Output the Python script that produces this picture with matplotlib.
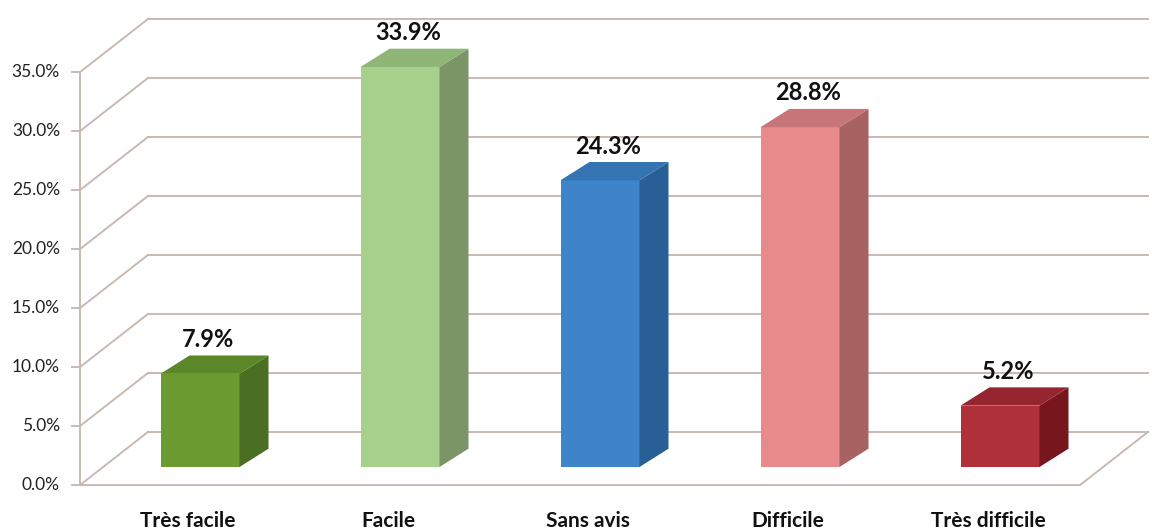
import numpy as np
import matplotlib.pyplot as plt
from matplotlib.patches import Polygon

plt.rcParams['font.family'] = ['Lato', 'DejaVu Sans']

categories = ['Très facile', 'Facile', 'Sans avis', 'Difficile', 'Très difficile']
values = [7.9, 33.9, 24.3, 28.8, 5.2]
y_ticks = [0, 5, 10, 15, 20, 25, 30, 35]

front_colors = ['#6b9b30', '#a8d08d', '#3d85c8', '#e8898b', '#b0303a']
side_colors = ['#4a6e22', '#7b9566', '#285f96', '#a86262', '#78161e']
top_colors = ['#5a8728', '#8fb577', '#3474b2', '#c77578', '#952530']

GRID = '#c8b9b2'
BAR_W = 0.395
BAR_DX, BAR_DY = 0.145, 1.55      # depth of a bar (categories, %)
FRONT_DX, FRONT_DY = -0.115, -1.53  # front plane of the box
BACK_DX, BACK_DY = 0.225, 2.97      # back wall of the box
BOX_L, BOX_R = -0.485, 4.515

fig = plt.figure(figsize=(11.52, 5.32), dpi=100)
ax = fig.add_axes([0, 0, 1, 1])
ax.set_xlim(-1.0, 4.76)
ax.set_ylim(-5.51, 39.58)
ax.axis('off')

fl, fr = BOX_L + FRONT_DX, BOX_R + FRONT_DX
bl, br = BOX_L + BACK_DX, BOX_R + BACK_DX

# walls + gridlines
for t in y_ticks:
    ax.plot([bl, br], [t + BACK_DY] * 2, color=GRID, lw=1.4, zorder=1)
    ax.plot([fl, bl], [t + FRONT_DY, t + BACK_DY], color=GRID, lw=1.4, zorder=1)
    ax.plot([fl - 0.04, fl], [t + FRONT_DY] * 2, color=GRID, lw=1.4, zorder=1)
    ax.text(fl - 0.1, t + FRONT_DY, f'{t:.1f}%', ha='right', va='center',
            fontsize=12.5, color='#222222')
ax.plot([fl, fl], [FRONT_DY, y_ticks[-1] + FRONT_DY], color=GRID, lw=1.4, zorder=1)
ax.plot([fl, fr, br], [FRONT_DY, FRONT_DY, BACK_DY], color=GRID, lw=1.4, zorder=1)

# bars with side and top faces
x = np.arange(len(categories))
ax.bar(x, values, width=BAR_W, color=front_colors, zorder=3)
for xi, v, sc, tc in zip(x, values, side_colors, top_colors):
    r = xi + BAR_W / 2
    l = xi - BAR_W / 2
    side = Polygon([(r, 0), (r + BAR_DX, BAR_DY), (r + BAR_DX, v + BAR_DY), (r, v)],
                   closed=True, facecolor=sc, edgecolor='none', zorder=3)
    top = Polygon([(l, v), (r, v), (r + BAR_DX, v + BAR_DY), (l + BAR_DX, v + BAR_DY)],
                  closed=True, facecolor=tc, edgecolor='none', zorder=3)
    ax.add_patch(side)
    ax.add_patch(top)
    ax.text(xi + 0.04, v + BAR_DY + 1.35, f'{v:.1f}%', ha='center', va='center',
            fontsize=17, fontweight='bold', color='#111111')

for xi, cat in zip(x, categories):
    ax.text(xi - 0.06, -4.6, cat, ha='center', va='center',
            fontsize=15, fontweight='bold', color='#111111')

plt.savefig('out.png', dpi=100)
